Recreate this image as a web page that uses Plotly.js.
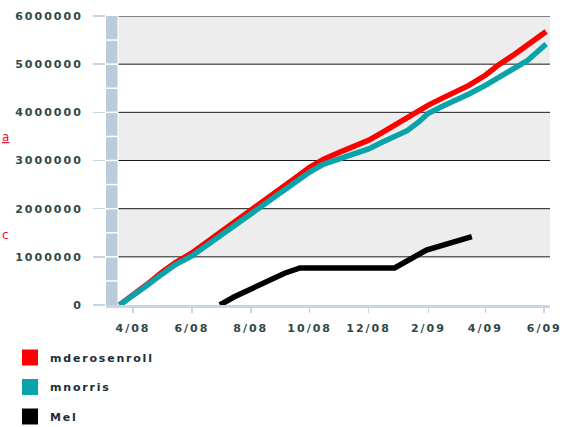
<!DOCTYPE html>
<html>
<head>
<meta charset="utf-8">
<script src="https://cdn.plot.ly/plotly-3.0.1.min.js"></script>
<style>
  html, body { margin: 0; padding: 0; background: #fff; }
  #chart { width: 565px; height: 427px; }
  .xtick text, .ytick text { letter-spacing: 2px; }
  .legendtext { letter-spacing: 1.8px; }
</style>
</head>
<body>
<div id="chart"></div>
<script>
// ---- data ----
const seriesNames = ["mderosenroll", "mnorris", "Mel"];
const seriesColors = ["#ff0000", "#0aa3aa", "#000000"];

const redDates = ["2008-03-18","2008-04-01","2008-04-15","2008-05-01","2008-05-15","2008-06-01","2008-06-15","2008-07-01","2008-07-15","2008-08-01","2008-08-15","2008-09-01","2008-09-15","2008-10-01","2008-10-15","2008-11-01","2008-11-15","2008-12-01","2008-12-15","2009-01-01","2009-01-15","2009-02-01","2009-02-15","2009-03-01","2009-03-15","2009-04-01","2009-04-15","2009-05-01","2009-05-15","2009-06-03"];
const redValues = [0,200000,420000,680000,880000,1080000,1280000,1520000,1720000,1970000,2160000,2420000,2620000,2860000,3020000,3170000,3290000,3420000,3580000,3780000,3970000,4150000,4290000,4410000,4560000,4770000,4990000,5200000,5400000,5680000];

const tealDates = ["2008-03-18","2008-04-01","2008-04-15","2008-05-01","2008-05-15","2008-06-01","2008-06-15","2008-07-01","2008-07-15","2008-08-01","2008-08-15","2008-09-01","2008-09-15","2008-10-01","2008-10-15","2008-11-01","2008-11-15","2008-12-01","2008-12-15","2009-01-01","2009-01-10","2009-01-22","2009-02-01","2009-02-15","2009-03-01","2009-03-15","2009-04-01","2009-04-15","2009-05-01","2009-05-15","2009-06-03"];
const tealValues = [0,190000,400000,640000,840000,1020000,1220000,1450000,1650000,1880000,2070000,2320000,2520000,2760000,2920000,3030000,3120000,3240000,3380000,3550000,3620000,3800000,3980000,4120000,4240000,4380000,4560000,4720000,4900000,5080000,5420000];

const melDates = ["2008-06-30","2008-07-15","2008-08-03","2008-08-20","2008-09-05","2008-09-21","2008-12-28","2009-01-30","2009-03-18"];
const melValues = [0,170000,350000,520000,660000,770000,770000,1140000,1420000];

const xTickVals = ["2008-04-01","2008-06-01","2008-08-01","2008-10-01","2008-12-01","2009-02-01","2009-04-01","2009-06-01"];
const xTickText = ["4/08","6/08","8/08","10/08","12/08","2/09","4/09","6/09"];
const yTickVals = [0,1000000,2000000,3000000,4000000,5000000,6000000];
const yTickText = ["0","1000000","2000000","3000000","4000000","5000000","6000000"];

// ---- layout helpers ----
const W = 565, H = 427;
const plotLeft = 106, plotRight = 550;
const plotW = plotRight - plotLeft;
const wallW = 12 / plotW;
const yMax = 6000000;
const textColor = "#2f4848";
const wallColor = "#bccbdb";
const floorColor = "#c9d5e1";

const shapes = [];
for (let i = 0; i < yTickVals.length - 1; i++) {
  if (i % 2 === 1) {
    shapes.push({type: "rect", xref: "paper", yref: "y", x0: wallW, x1: 1,
      y0: yTickVals[i], y1: yTickVals[i + 1], fillcolor: "#ededed", line: {width: 0}, layer: "below"});
  }
}
for (let i = 1; i < yTickVals.length; i++) {
  shapes.push({type: "line", xref: "paper", yref: "y", x0: wallW, x1: 1,
    y0: yTickVals[i], y1: yTickVals[i], line: {color: "#1a1a1a", width: 1}, layer: "below"});
}
shapes.push({type: "rect", xref: "paper", yref: "y", x0: 0, x1: wallW, y0: 0, y1: yMax,
  fillcolor: wallColor, line: {width: 0}, layer: "below"});
for (let v = 500000; v < yMax; v += 500000) {
  shapes.push({type: "line", xref: "paper", yref: "y", x0: 0, x1: wallW, y0: v, y1: v,
    line: {color: "#ffffff", width: 1.5}, layer: "below"});
}
shapes.push({type: "line", xref: "paper", yref: "y", x0: wallW, x1: wallW, y0: 0, y1: yMax,
  line: {color: "#ffffff", width: 1}, layer: "below"});

const dataX = [redDates, tealDates, melDates];
const dataY = [redValues, tealValues, melValues];
const traces = [];
for (let i = 0; i < 3; i++) {
  traces.push({x: dataX[i], y: dataY[i], type: "scatter", mode: "lines",
    line: {color: seriesColors[i], width: 5.5}, showlegend: false, hoverinfo: "skip"});
}
for (let i = 0; i < 3; i++) {
  traces.push({x: [null], y: [null], type: "scatter", mode: "markers", name: seriesNames[i],
    legendgroup: "g" + i, marker: {symbol: "square", size: 16, color: seriesColors[i]}, showlegend: true});
}

const layout = {
  width: W, height: H,
  margin: {l: plotLeft, r: W - plotRight, t: 16, b: 122},
  paper_bgcolor: "#ffffff", plot_bgcolor: "#ffffff",
  font: {family: "DejaVu Sans", size: 11, color: textColor},
  showlegend: true,
  legend: {xref: "paper", yref: "container", x: (10 - plotLeft) / plotW, xanchor: "left",
    y: (H - 343) / H, yanchor: "top",
    traceorder: "grouped", tracegroupgap: 10.5, bgcolor: "rgba(0,0,0,0)",
    font: {family: "DejaVu Sans", size: 11, color: "#1c2e36", weight: "bold"}},
  xaxis: {type: "date", range: ["2008-03-04", "2009-06-07"],
    tickvals: xTickVals, ticktext: xTickText,
    showgrid: false, zeroline: false, showline: true, linecolor: floorColor, linewidth: 3,
    ticks: "outside", ticklen: 5, tickwidth: 1.5, tickcolor: floorColor,
    ticklabelstandoff: 6, automargin: false,
    tickfont: {family: "DejaVu Sans", size: 11, color: textColor, weight: "bold"}, fixedrange: true},
  yaxis: {range: [0, yMax], tickvals: yTickVals, ticktext: yTickText,
    showgrid: false, zeroline: false, showline: false,
    ticks: "outside", ticklen: 12, tickwidth: 1.5, tickcolor: floorColor,
    ticklabelstandoff: 8, automargin: false,
    tickfont: {family: "DejaVu Sans", size: 11, color: textColor, weight: "bold"}, fixedrange: true},
  shapes: shapes,
  annotations: [
    {xref: "paper", yref: "y", x: (0 - plotLeft) / plotW, xanchor: "left", y: 3490000, yanchor: "middle",
      text: "<span style='text-decoration:underline'>a</span>", showarrow: false,
      font: {family: "DejaVu Sans", size: 12, color: "#e8102e"}},
    {xref: "paper", yref: "y", x: (0 - plotLeft) / plotW, xanchor: "left", y: 1450000, yanchor: "middle",
      text: "c", showarrow: false, font: {family: "DejaVu Sans", size: 12, color: "#e8102e"}}
  ]
};

Plotly.newPlot("chart", traces, layout, {displayModeBar: false, staticPlot: true});
</script>
</body>
</html>
